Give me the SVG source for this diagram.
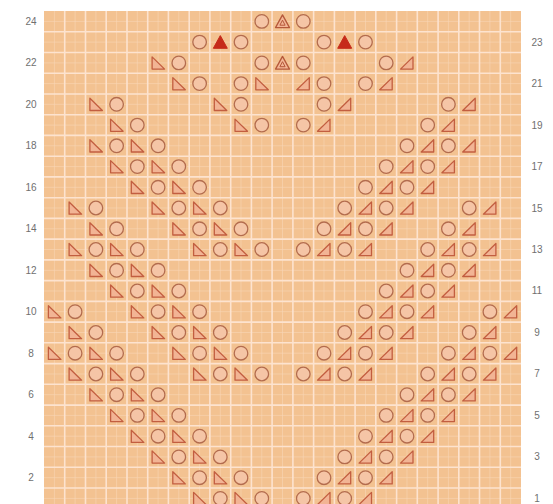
<svg xmlns="http://www.w3.org/2000/svg" xmlns:xlink="http://www.w3.org/1999/xlink" width="553" height="504" viewBox="0 0 553 504">
<style>
.lbl{font-family:"Liberation Sans",Arial,sans-serif;font-size:10px;fill:#707070;text-anchor:middle}
.grid{stroke:#fde3cf;stroke-width:1.6;fill:none}
.sub{stroke:#f9d6b6;stroke-width:1;fill:none;opacity:0.6}
.yo{fill:#f5c5a6;stroke:#b36c4e;stroke-width:1.3}
.tri{fill:#f2b494;stroke:#c25e40;stroke-width:1.3;stroke-linejoin:round}
.cdd{fill:#c62b1a;stroke:#c62b1a;stroke-width:1;stroke-linejoin:round}
.s3{fill:#f3b696;stroke:#b5583a;stroke-width:1.3;stroke-linejoin:round}
</style>
<defs>
<circle id="o" class="yo" cx="0" cy="0" r="6.8"/>
<polygon id="l" class="tri" points="-6,-6 -6,6.2 6.5,6.2"/>
<polygon id="r" class="tri" points="6,-6 6,6.2 -6.5,6.2"/>
<polygon id="a" class="cdd" points="0,-6.5 7,6.2 -7,6.2"/>
<g id="t"><polygon class="s3" points="0,-6.5 7,6.2 -7,6.2"/><path d="M0,-1.2 L-2.6,3.8 L2.6,3.8 Z" fill="none" stroke="#b5583a" stroke-width="1"/></g>
</defs>
<rect width="553" height="504" fill="#ffffff"/>
<g id="chart">
<rect x="44" y="11" width="477" height="500" fill="#f3c291"/>
<path class="sub" d="M54.4,11V504M75.1,11V504M95.9,11V504M116.6,11V504M137.3,11V504M158.1,11V504M178.8,11V504M199.6,11V504M220.3,11V504M241,11V504M261.8,11V504M282.5,11V504M303.3,11V504M324,11V504M344.7,11V504M365.5,11V504M386.2,11V504M407,11V504M427.7,11V504M448.4,11V504M469.2,11V504M489.9,11V504M510.7,11V504M44,21.4H521M44,42.1H521M44,62.9H521M44,83.6H521M44,104.3H521M44,125.1H521M44,145.8H521M44,166.6H521M44,187.3H521M44,208H521M44,228.8H521M44,249.5H521M44,270.3H521M44,291H521M44,311.7H521M44,332.5H521M44,353.2H521M44,374H521M44,394.7H521M44,415.4H521M44,436.2H521M44,456.9H521M44,477.7H521M44,498.4H521"/>
<path class="grid" d="M64.7,11V504M85.5,11V504M106.2,11V504M127,11V504M147.7,11V504M168.4,11V504M189.2,11V504M209.9,11V504M230.7,11V504M251.4,11V504M272.1,11V504M292.9,11V504M313.6,11V504M334.4,11V504M355.1,11V504M375.8,11V504M396.6,11V504M417.3,11V504M438.1,11V504M458.8,11V504M479.5,11V504M500.3,11V504M44,31.7H521M44,52.5H521M44,73.2H521M44,94H521M44,114.7H521M44,135.4H521M44,156.2H521M44,176.9H521M44,197.7H521M44,218.4H521M44,239.1H521M44,259.9H521M44,280.6H521M44,301.4H521M44,322.1H521M44,342.8H521M44,363.6H521M44,384.3H521M44,405.1H521M44,425.8H521M44,446.5H521M44,467.3H521M44,488H521"/>
</g>
<g id="labels-left">
<text class="lbl" x="31" y="25">24</text>
<text class="lbl" x="31" y="66">22</text>
<text class="lbl" x="31" y="108">20</text>
<text class="lbl" x="31" y="149">18</text>
<text class="lbl" x="31" y="191">16</text>
<text class="lbl" x="31" y="232">14</text>
<text class="lbl" x="31" y="274">12</text>
<text class="lbl" x="31" y="315">10</text>
<text class="lbl" x="31" y="357">8</text>
<text class="lbl" x="31" y="398">6</text>
<text class="lbl" x="31" y="440">4</text>
<text class="lbl" x="31" y="481">2</text>
</g>
<g id="labels-right">
<text class="lbl" x="537" y="46">23</text>
<text class="lbl" x="537" y="87">21</text>
<text class="lbl" x="537" y="129">19</text>
<text class="lbl" x="537" y="170">17</text>
<text class="lbl" x="537" y="212">15</text>
<text class="lbl" x="537" y="253">13</text>
<text class="lbl" x="537" y="294">11</text>
<text class="lbl" x="537" y="336">9</text>
<text class="lbl" x="537" y="377">7</text>
<text class="lbl" x="537" y="419">5</text>
<text class="lbl" x="537" y="460">3</text>
<text class="lbl" x="537" y="502">1</text>
</g>
<g id="symbols">
<g id="row24" transform="translate(0,21.4)"><use href="#o" x="261.8"/><use href="#t" x="282.5"/><use href="#o" x="303.3"/></g>
<g id="row23" transform="translate(0,42.1)"><use href="#o" x="199.6"/><use href="#a" x="220.3"/><use href="#o" x="241"/><use href="#o" x="324"/><use href="#a" x="344.7"/><use href="#o" x="365.5"/></g>
<g id="row22" transform="translate(0,62.9)"><use href="#l" x="158.1"/><use href="#o" x="178.8"/><use href="#o" x="261.8"/><use href="#t" x="282.5"/><use href="#o" x="303.3"/><use href="#o" x="386.2"/><use href="#r" x="407"/></g>
<g id="row21" transform="translate(0,83.6)"><use href="#l" x="178.8"/><use href="#o" x="199.6"/><use href="#o" x="241"/><use href="#l" x="261.8"/><use href="#r" x="303.3"/><use href="#o" x="324"/><use href="#o" x="365.5"/><use href="#r" x="386.2"/></g>
<g id="row20" transform="translate(0,104.3)"><use href="#l" x="95.9"/><use href="#o" x="116.6"/><use href="#l" x="220.3"/><use href="#o" x="241"/><use href="#o" x="324"/><use href="#r" x="344.7"/><use href="#o" x="448.4"/><use href="#r" x="469.2"/></g>
<g id="row19" transform="translate(0,125.1)"><use href="#l" x="116.6"/><use href="#o" x="137.3"/><use href="#l" x="241"/><use href="#o" x="261.8"/><use href="#o" x="303.3"/><use href="#r" x="324"/><use href="#o" x="427.7"/><use href="#r" x="448.4"/></g>
<g id="row18" transform="translate(0,145.8)"><use href="#l" x="95.9"/><use href="#o" x="116.6"/><use href="#l" x="137.3"/><use href="#o" x="158.1"/><use href="#o" x="407"/><use href="#r" x="427.7"/><use href="#o" x="448.4"/><use href="#r" x="469.2"/></g>
<g id="row17" transform="translate(0,166.6)"><use href="#l" x="116.6"/><use href="#o" x="137.3"/><use href="#l" x="158.1"/><use href="#o" x="178.8"/><use href="#o" x="386.2"/><use href="#r" x="407"/><use href="#o" x="427.7"/><use href="#r" x="448.4"/></g>
<g id="row16" transform="translate(0,187.3)"><use href="#l" x="137.3"/><use href="#o" x="158.1"/><use href="#l" x="178.8"/><use href="#o" x="199.6"/><use href="#o" x="365.5"/><use href="#r" x="386.2"/><use href="#o" x="407"/><use href="#r" x="427.7"/></g>
<g id="row15" transform="translate(0,208)"><use href="#l" x="75.1"/><use href="#o" x="95.9"/><use href="#l" x="158.1"/><use href="#o" x="178.8"/><use href="#l" x="199.6"/><use href="#o" x="220.3"/><use href="#o" x="344.7"/><use href="#r" x="365.5"/><use href="#o" x="386.2"/><use href="#r" x="407"/><use href="#o" x="469.2"/><use href="#r" x="489.9"/></g>
<g id="row14" transform="translate(0,228.8)"><use href="#l" x="95.9"/><use href="#o" x="116.6"/><use href="#l" x="178.8"/><use href="#o" x="199.6"/><use href="#l" x="220.3"/><use href="#o" x="241"/><use href="#o" x="324"/><use href="#r" x="344.7"/><use href="#o" x="365.5"/><use href="#r" x="386.2"/><use href="#o" x="448.4"/><use href="#r" x="469.2"/></g>
<g id="row13" transform="translate(0,249.5)"><use href="#l" x="75.1"/><use href="#o" x="95.9"/><use href="#l" x="116.6"/><use href="#o" x="137.3"/><use href="#l" x="199.6"/><use href="#o" x="220.3"/><use href="#l" x="241"/><use href="#o" x="261.8"/><use href="#o" x="303.3"/><use href="#r" x="324"/><use href="#o" x="344.7"/><use href="#r" x="365.5"/><use href="#o" x="427.7"/><use href="#r" x="448.4"/><use href="#o" x="469.2"/><use href="#r" x="489.9"/></g>
<g id="row12" transform="translate(0,270.3)"><use href="#l" x="95.9"/><use href="#o" x="116.6"/><use href="#l" x="137.3"/><use href="#o" x="158.1"/><use href="#o" x="407"/><use href="#r" x="427.7"/><use href="#o" x="448.4"/><use href="#r" x="469.2"/></g>
<g id="row11" transform="translate(0,291)"><use href="#l" x="116.6"/><use href="#o" x="137.3"/><use href="#l" x="158.1"/><use href="#o" x="178.8"/><use href="#o" x="386.2"/><use href="#r" x="407"/><use href="#o" x="427.7"/><use href="#r" x="448.4"/></g>
<g id="row10" transform="translate(0,311.7)"><use href="#l" x="54.4"/><use href="#o" x="75.1"/><use href="#l" x="137.3"/><use href="#o" x="158.1"/><use href="#l" x="178.8"/><use href="#o" x="199.6"/><use href="#o" x="365.5"/><use href="#r" x="386.2"/><use href="#o" x="407"/><use href="#r" x="427.7"/><use href="#o" x="489.9"/><use href="#r" x="510.7"/></g>
<g id="row9" transform="translate(0,332.5)"><use href="#l" x="75.1"/><use href="#o" x="95.9"/><use href="#l" x="158.1"/><use href="#o" x="178.8"/><use href="#l" x="199.6"/><use href="#o" x="220.3"/><use href="#o" x="344.7"/><use href="#r" x="365.5"/><use href="#o" x="386.2"/><use href="#r" x="407"/><use href="#o" x="469.2"/><use href="#r" x="489.9"/></g>
<g id="row8" transform="translate(0,353.2)"><use href="#l" x="54.4"/><use href="#o" x="75.1"/><use href="#l" x="95.9"/><use href="#o" x="116.6"/><use href="#l" x="178.8"/><use href="#o" x="199.6"/><use href="#l" x="220.3"/><use href="#o" x="241"/><use href="#o" x="324"/><use href="#r" x="344.7"/><use href="#o" x="365.5"/><use href="#r" x="386.2"/><use href="#o" x="448.4"/><use href="#r" x="469.2"/><use href="#o" x="489.9"/><use href="#r" x="510.7"/></g>
<g id="row7" transform="translate(0,374)"><use href="#l" x="75.1"/><use href="#o" x="95.9"/><use href="#l" x="116.6"/><use href="#o" x="137.3"/><use href="#l" x="199.6"/><use href="#o" x="220.3"/><use href="#l" x="241"/><use href="#o" x="261.8"/><use href="#o" x="303.3"/><use href="#r" x="324"/><use href="#o" x="344.7"/><use href="#r" x="365.5"/><use href="#o" x="427.7"/><use href="#r" x="448.4"/><use href="#o" x="469.2"/><use href="#r" x="489.9"/></g>
<g id="row6" transform="translate(0,394.7)"><use href="#l" x="95.9"/><use href="#o" x="116.6"/><use href="#l" x="137.3"/><use href="#o" x="158.1"/><use href="#o" x="407"/><use href="#r" x="427.7"/><use href="#o" x="448.4"/><use href="#r" x="469.2"/></g>
<g id="row5" transform="translate(0,415.4)"><use href="#l" x="116.6"/><use href="#o" x="137.3"/><use href="#l" x="158.1"/><use href="#o" x="178.8"/><use href="#o" x="386.2"/><use href="#r" x="407"/><use href="#o" x="427.7"/><use href="#r" x="448.4"/></g>
<g id="row4" transform="translate(0,436.2)"><use href="#l" x="137.3"/><use href="#o" x="158.1"/><use href="#l" x="178.8"/><use href="#o" x="199.6"/><use href="#o" x="365.5"/><use href="#r" x="386.2"/><use href="#o" x="407"/><use href="#r" x="427.7"/></g>
<g id="row3" transform="translate(0,456.9)"><use href="#l" x="158.1"/><use href="#o" x="178.8"/><use href="#l" x="199.6"/><use href="#o" x="220.3"/><use href="#o" x="344.7"/><use href="#r" x="365.5"/><use href="#o" x="386.2"/><use href="#r" x="407"/></g>
<g id="row2" transform="translate(0,477.7)"><use href="#l" x="178.8"/><use href="#o" x="199.6"/><use href="#l" x="220.3"/><use href="#o" x="241"/><use href="#o" x="324"/><use href="#r" x="344.7"/><use href="#o" x="365.5"/><use href="#r" x="386.2"/></g>
<g id="row1" transform="translate(0,498.4)"><use href="#l" x="199.6"/><use href="#o" x="220.3"/><use href="#l" x="241"/><use href="#o" x="261.8"/><use href="#o" x="303.3"/><use href="#r" x="324"/><use href="#o" x="344.7"/><use href="#r" x="365.5"/></g>
</g>
</svg>
